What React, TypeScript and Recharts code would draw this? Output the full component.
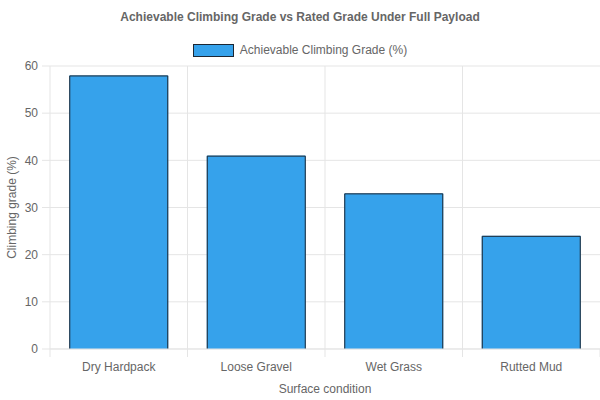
import React from 'react';
import { BarChart, Bar, XAxis, YAxis, CartesianGrid } from 'recharts';

const surfaces = ['Dry Hardpack', 'Loose Gravel', 'Wet Grass', 'Rutted Mud'];
const climbingGrade = [58, 41, 33, 24];
const gradeTicks = [0, 10, 20, 30, 40, 50, 60];

const data = surfaces.map((surface, i) => ({ surface, grade: climbingGrade[i] }));

const FONT = '"Liberation Sans", Arial, Helvetica, sans-serif';
const TEXT = '#666';
const GRID = '#e5e5e5';
const FILL = '#36A2EB';
const BORDER = '#1c2733';

// chart.js style bar: border on top and sides, none at the base
const BorderedBar = (props: any) => {
    const { x, y, width, height } = props;
    if (!height) return null;
    return (
        <g>
            <rect x={x} y={y} width={width} height={height} fill={FILL} />
            <path
                d={`M${x + 0.5},${y + height} L${x + 0.5},${y + 0.5} L${x + width - 0.5},${y + 0.5} L${x + width - 0.5},${y + height}`}
                fill="none"
                stroke={BORDER}
                strokeWidth={1}
            />
        </g>
    );
};

// category label plus the little tick marks at band edges
const SurfaceTick = (props: any) => {
    const { x, y, payload, index, visibleTicksCount } = props;
    const half = payload.offset ?? 68.75;
    const axisY = y - 12;
    return (
        <g>
            <line x1={x - half} x2={x - half} y1={axisY} y2={axisY + 8} stroke={GRID} />
            {index === visibleTicksCount - 1 && (
                <line x1={x + half} x2={x + half} y1={axisY} y2={axisY + 8} stroke={GRID} />
            )}
            <text x={x} y={y} dy={10} textAnchor="middle" fill={TEXT} fontSize={12} fontFamily={FONT}>
                {payload.value}
            </text>
        </g>
    );
};

export default function App() {
    return (
        <div style={{ position: 'absolute', left: 0, top: 0, width: 600, height: 400, background: '#fff', fontFamily: FONT }}>
            <div
                style={{
                    position: 'absolute',
                    top: 10,
                    width: 600,
                    textAlign: 'center',
                    fontSize: 12,
                    fontWeight: 'bold',
                    color: TEXT,
                    lineHeight: '14px',
                }}
            >
                Achievable Climbing Grade vs Rated Grade Under Full Payload
            </div>
            <div
                style={{
                    position: 'absolute',
                    top: 43,
                    left: 0,
                    width: 600,
                    display: 'flex',
                    justifyContent: 'center',
                    alignItems: 'center',
                    fontSize: 12,
                    color: TEXT,
                    lineHeight: '14px',
                }}
            >
                <span
                    style={{
                        display: 'inline-block',
                        width: 39,
                        height: 11,
                        background: FILL,
                        border: `1px solid ${BORDER}`,
                        marginRight: 6,
                    }}
                />
                <span>Achievable Climbing Grade (%)</span>
            </div>
            <BarChart
                width={600}
                height={400}
                data={data}
                margin={{ top: 66, right: 0, left: 0, bottom: 0 }}
                barCategoryGap="14%"
                style={{ position: 'absolute', left: 0, top: 0 }}
            >
                <CartesianGrid
                    stroke={GRID}
                    verticalCoordinatesGenerator={({ offset }: any) =>
                        surfaces.map((_, i) => offset.left + (i * offset.width) / surfaces.length)
                    }
                />
                <XAxis
                    dataKey="surface"
                    height={51}
                    tickSize={8}
                    tickMargin={4}
                    tickLine={false}
                    axisLine={{ stroke: GRID }}
                    tick={<SurfaceTick />}
                    interval={0}
                    label={{
                        content: ({ viewBox }: any) => (
                            <text
                                x={viewBox.x + viewBox.width / 2}
                                y={viewBox.y + 44}
                                textAnchor="middle"
                                fill={TEXT}
                                fontSize={12}
                                fontFamily={FONT}
                            >
                                Surface condition
                            </text>
                        ),
                    }}
                />
                <YAxis
                    width={50}
                    domain={[0, 60]}
                    ticks={gradeTicks}
                    tickSize={8}
                    tickMargin={4}
                    axisLine={false}
                    tickLine={{ stroke: GRID }}
                    tick={{ fill: TEXT, fontSize: 12, fontFamily: FONT }}
                    label={{
                        content: ({ viewBox }: any) => {
                            const cx = viewBox.x + 16;
                            const cy = viewBox.y + viewBox.height / 2;
                            return (
                                <text
                                    x={cx}
                                    y={cy}
                                    transform={`rotate(-90, ${cx}, ${cy})`}
                                    textAnchor="middle"
                                    fill={TEXT}
                                    fontSize={12}
                                    fontFamily={FONT}
                                >
                                    Climbing grade (%)
                                </text>
                            );
                        },
                    }}
                />
                <Bar dataKey="grade" shape={<BorderedBar />} isAnimationActive={false} />
            </BarChart>
        </div>
    );
}
